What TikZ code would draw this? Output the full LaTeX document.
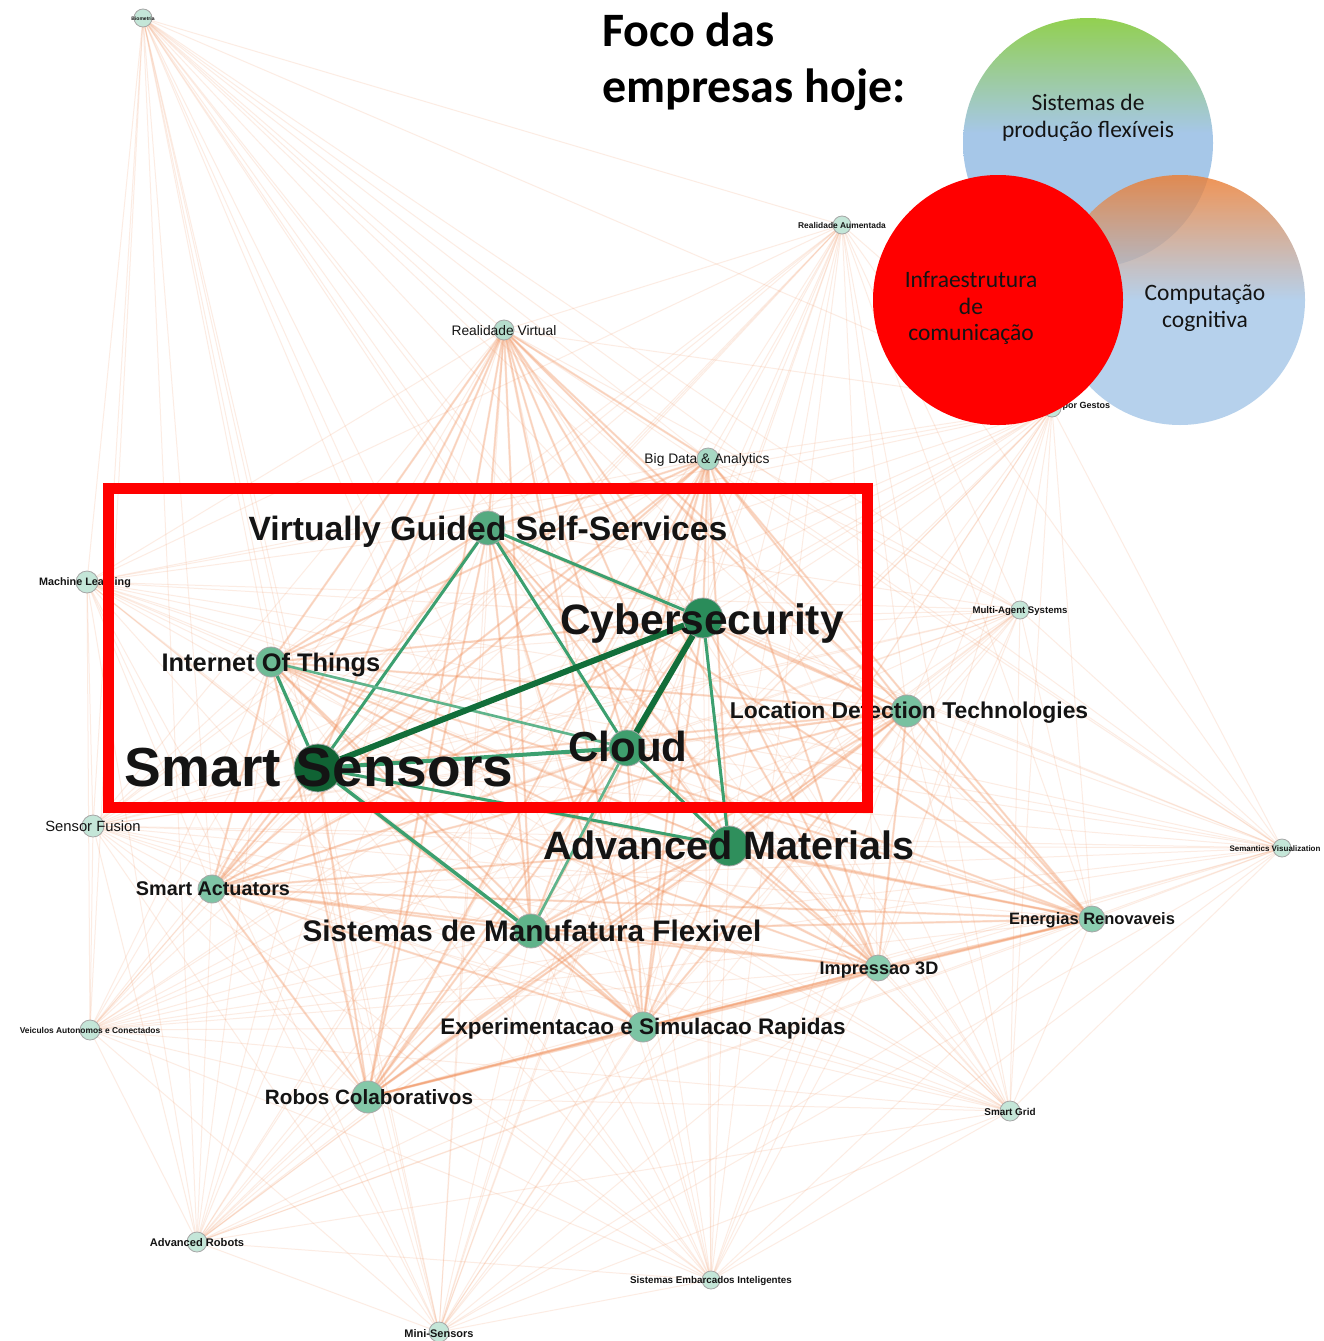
\documentclass[tikz,border=0pt]{standalone}
\usepackage{fontspec}
\setmainfont{Liberation Sans}
\newfontfamily\calib{Carlito}
\pgfdeclarelayer{bglayer}
\pgfdeclarelayer{edgelayer}
\pgfsetlayers{bglayer,edgelayer,main}
\definecolor{edgeor}{RGB}{242,145,92}
\definecolor{gmid}{RGB}{60,160,112}
\definecolor{glight}{RGB}{95,180,140}
\definecolor{gdark}{RGB}{18,110,58}
\definecolor{txt}{RGB}{20,20,20}
\definecolor{vgr}{RGB}{146,208,80}
\definecolor{vblue}{RGB}{166,199,232}
\definecolor{vor}{RGB}{237,125,49}
\definecolor{nsmall}{RGB}{196,230,216}
\pgfdeclareverticalshading{vgreenshade}{100bp}{color(0bp)=(vblue); color(52bp)=(vblue); color(75bp)=(vgr); color(100bp)=(vgr)}
\pgfdeclareverticalshading{vorshade}{100bp}{color(0bp)=(vblue); color(50bp)=(vblue); color(75bp)=(vor); color(100bp)=(vor)}
\tikzset{
  gn/.style={circle, draw=black!35, line width=0.8pt, inner sep=0pt, minimum size=#1},
  lab/.style={font=\bfseries\fontsize{#1}{#1}\selectfont, text=txt, inner sep=0pt, anchor=base},
  labr/.style={font=\fontsize{#1}{#1}\selectfont, text=txt, inner sep=0pt, anchor=base},
  faint/.style={draw=edgeor, line width=1pt, opacity=0.17},
  core/.style={draw=edgeor, line width=2.2pt, opacity=0.29},
  gE/.style={draw=gmid, line width=#1},
  venntxt/.style={font=\calib\fontsize{23.5}{26.5}\selectfont, text=txt, align=center, inner sep=0pt}
}
\begin{document}
\begin{tikzpicture}[x=1pt,y=-1pt]
\useasboundingbox (0,0) rectangle (1324,1341);
\begin{pgfonlayer}{bglayer}
\fill[white] (0,0) rectangle (1324,1341);
\end{pgfonlayer}

% ---------- nodes ----------
\node[gn=48pt, fill=gdark!90!black] (SS) at (318,768) {};
\node[gn=40pt, fill={rgb,255:red,42;green,140;blue,90}] (CY) at (703,618) {};
\node[gn=40pt, fill={rgb,255:red,47;green,143;blue,92}] (AM) at (729,846) {};
\node[gn=36pt, fill={rgb,255:red,63;green,158;blue,110}] (CL) at (627,748) {};
\node[gn=34pt, fill={rgb,255:red,85;green,170;blue,128}] (VG) at (488,528) {};
\node[gn=30pt, fill={rgb,255:red,109;green,187;blue,149}] (IT) at (271,662) {};
\node[gn=32pt, fill={rgb,255:red,120;green,193;blue,160}] (LD) at (907,711) {};
\node[gn=34pt, fill={rgb,255:red,95;green,179;blue,138}] (SM) at (531,931) {};
\node[gn=30pt, fill={rgb,255:red,124;green,196;blue,164}] (EX) at (643,1027) {};
\node[gn=32pt, fill={rgb,255:red,132;green,200;blue,168}] (RC) at (368,1097) {};
\node[gn=28pt, fill={rgb,255:red,127;green,196;blue,165}] (SA) at (212,889) {};
\node[gn=26pt, fill={rgb,255:red,140;green,205;blue,176}] (IM) at (878,968) {};
\node[gn=26pt, fill={rgb,255:red,140;green,205;blue,176}] (ER) at (1092,919) {};
\node[gn=22pt, fill={rgb,255:red,168;green,216;blue,196}] (BD) at (708,459) {};
\node[gn=20pt, fill={rgb,255:red,180;green,220;blue,204}] (RV) at (504,330) {};
\node[gn=22pt, fill=nsmall] (SF) at (93,826) {};
\node[gn=22pt, fill=nsmall] (ML) at (87,582) {};
\node[gn=18pt, fill=nsmall] (MA) at (1020,610) {};
\node[gn=18pt, fill=nsmall] (RA) at (842,225) {};
\node[gn=18pt, fill=nsmall] (SV) at (1282,848) {};
\node[gn=20pt, fill=nsmall] (VA) at (90,1030) {};
\node[gn=20pt, fill=nsmall] (SG) at (1010,1111) {};
\node[gn=20pt, fill=nsmall] (AR) at (197,1242) {};
\node[gn=18pt, fill=nsmall] (SE) at (711,1280) {};
\node[gn=20pt, fill=nsmall] (MS) at (439,1332) {};
\node[gn=18pt, fill=nsmall] (TL) at (143,18) {};
\node[gn=18pt, fill=nsmall] (IG) at (1052,408) {};

% ---------- edges ----------
\def\allnodes{SS,CY,AM,CL,VG,IT,LD,SM,EX,RC,SA,IM,ER,BD,RV,SF,ML,MA,RA,SV,VA,SG,AR,SE,MS,TL,IG}
\def\corenodes{SS,CY,AM,CL,VG,IT,LD,SM,EX,RC,SA,IM,ER,BD,RV}
\begin{pgfonlayer}{edgelayer}
\foreach \a [count=\i] in \allnodes {
  \foreach \b [count=\j] in \allnodes {
    \ifnum\j>\i \draw[faint] (\a.center) -- (\b.center); \fi
  }
}
\foreach \a [count=\i] in \corenodes {
  \foreach \b [count=\j] in \corenodes {
    \ifnum\j>\i \draw[core] (\a.center) -- (\b.center); \fi
  }
}
\draw[gE=3pt] (VG.center) -- (SS.center);
\draw[gE=3pt] (VG.center) -- (CY.center);
\draw[gE=3pt] (VG.center) -- (CL.center);
\draw[gE=3.2pt] (IT.center) -- (SS.center);
\draw[gE=2.6pt, draw=glight] (IT.center) -- (CL.center);
\draw[gE=6pt, draw=gdark] (SS.center) -- (CY.center);
\draw[gE=6pt, draw=gdark] (CY.center) -- (CL.center);
\draw[gE=4pt] (SS.center) -- (CL.center);
\draw[gE=3pt] (CY.center) -- (AM.center);
\draw[gE=3pt] (SS.center) -- (AM.center);
\draw[gE=3.5pt] (SS.center) -- (SM.center);
\draw[gE=2.6pt, draw=glight] (CL.center) -- (SM.center);
\draw[gE=3pt] (CL.center) -- (AM.center);
\end{pgfonlayer}

% ---------- labels ----------
\node[lab=55] (lSS) at (319,786) {Smart Sensors};
\node[lab=42.5] (lCY) at (702,634) {Cybersecurity};
\node[lab=33.7] (lVG) at (488,540) {Virtually Guided Self-Services};
\node[lab=42] (lCL) at (628,761) {Cloud};
\node[lab=39.6] (lAM) at (729,859) {Advanced Materials};
\node[lab=25.4] (lIT) at (271,671) {Internet Of Things};
\node[lab=22.9] (lLD) at (909,718) {Location Detection Technologies};
\node[lab=29.7] (lSM) at (532,941) {Sistemas de Manufatura Flexivel};
\node[lab=22.5] (lEX) at (643,1034) {Experimentacao e Simulacao Rapidas};
\node[lab=20.7] (lRC) at (369,1104) {Robos Colaborativos};
\node[lab=19.8] (lSA) at (213,895) {Smart Actuators};
\node[lab=16.5] (lER) at (1092,924) {Energias Renovaveis};
\node[lab=18.1] (lIM) at (879,974) {Impressao 3D};
\node[labr=13.8] (lBD) at (707,463) {Big Data \& Analytics};
\node[labr=13.8] (lRV) at (504,335) {Realidade Virtual};
\node[labr=14.8] (lSF) at (93,831) {Sensor Fusion};
\node[lab=10.8] (lML) at (85,585) {Machine Learning};
\node[lab=9.6] (lMA) at (1020,613.5) {Multi-Agent Systems};
\node[lab=8.4] (lRA) at (842,228) {Realidade Aumentada};
\node[lab=8] (lSV) at (1275,851) {Semantics Visualization};
\node[lab=8.4] (lVA) at (90,1033) {Veiculos Autonomos e Conectados};
\node[lab=9.9] (lSG) at (1010,1115) {Smart Grid};
\node[lab=11.1] (lAR) at (197,1246) {Advanced Robots};
\node[lab=9.8] (lSE) at (711,1283.5) {Sistemas Embarcados Inteligentes};
\node[lab=11] (lMS) at (439,1337) {Mini-Sensors};
\node[lab=5] (lTL) at (143,20) {Biometria};
\node[lab=9] (lIG) at (1065,408) {Interacao por Gestos};

% ---------- highlight rectangle ----------
\draw[red, line width=11pt] (108.5,488.5) rectangle (867.5,807.5);

% ---------- title ----------
\node[font=\calib\bfseries\fontsize{48}{57}\selectfont, anchor=base west, inner sep=0pt, text=black] (t1) at (602,46) {Foco das};
\node[font=\calib\bfseries\fontsize{48}{57}\selectfont, anchor=base west, inner sep=0pt, text=black] (t2) at (602,102) {empresas hoje:};

% ---------- Venn ----------
\shade[shading=vgreenshade] (1088,143) circle (125);
\shade[shading=vorshade, opacity=0.82] (1180,300) circle (125);
\fill[red] (998,300) circle (125);
\node[venntxt] (v1) at (1088,118) {Sistemas de\\produção flexíveis};
\node[venntxt] (v2) at (1205,308) {Computação\\cognitiva};
\node[venntxt] (v3) at (971,308) {Infraestrutura\\de\\comunicação};
\end{tikzpicture}
\end{document}
